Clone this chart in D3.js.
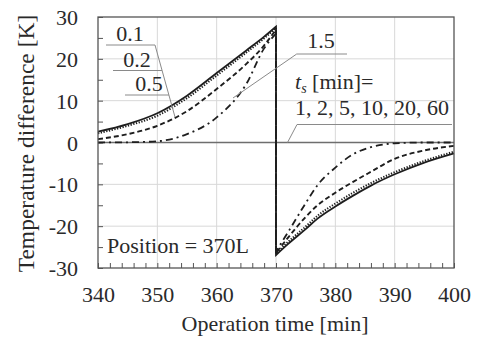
<!DOCTYPE html>
<html>
<head>
<meta charset="utf-8">
<script src="https://cdn.jsdelivr.net/npm/d3@7"></script>
<style>
  html, body { margin: 0; padding: 0; background: #fff; }
  svg { display: block; }
  text { font-family: "Liberation Serif", "Times New Roman", serif; fill: #2a2a2a; }
</style>
</head>
<body>
<svg id="chart" width="477" height="338"></svg>
<script>
// Time axis samples [min] before and after the switch at 370 min
const riseTime = [340, 345, 350, 355, 360, 365, 368, 370];
const fallTime = [370, 372, 375, 377, 380, 383, 386, 390, 395, 400];

// Temperature difference [K] for each switching time t_s
const rise01 = [2.6, 4.4, 7.0, 11.2, 16.6, 22.0, 25.3, 27.7];
const fall01 = [-26.9, -24.3, -20.7, -18.2, -15.3, -12.7, -10.3, -7.6, -4.8, -2.6];
const rise02 = [2.2, 4.0, 6.4, 10.6, 16.0, 21.5, 24.9, 27.4];
const fall02 = [-26.6, -23.8, -20.1, -17.5, -14.6, -12.0, -9.7, -7.1, -4.4, -2.2];
const rise05 = [0.8, 2.0, 4.0, 7.5, 12.8, 18.8, 23.2, 27.0];
const fall05 = [-26.4, -22.8, -17.8, -15.0, -12.0, -9.4, -7.0, -3.9, -1.9, -0.8];
const rise15 = [0.0, 0.05, 0.3, 2.0, 6.0, 14.0, 22.5, 26.0];
const fall15 = [-26.0, -21.5, -14.5, -10.2, -6.0, -2.8, -1.1, -0.2, 0.0, 0.0];

// t_s = 1, 2, 5, 10, 20, 60 min stay at zero
const flatTime = [340, 400];
const flatValue = [0, 0];

const xTicks = [340, 350, 360, 370, 380, 390, 400];
const yTicks = [-30, -20, -10, 0, 10, 20, 30];

const serif = '"Liberation Serif", "Times New Roman", serif';
const svg = d3.select("#chart");
const pL = 98, pR = 454, pT = 17, pB = 268;

const x = d3.scaleLinear().domain([340, 400]).range([pL, pR]);
const y = d3.scaleLinear().domain([-30, 30]).range([pB, pT]);

// grid
const grid = svg.append("g");
grid.selectAll("line.gx").data(xTicks.slice(1, -1)).enter().append("line")
  .attr("x1", d => x(d)).attr("x2", d => x(d)).attr("y1", pT).attr("y2", pB)
  .attr("stroke", "#d8d8d8").attr("stroke-width", 1);
grid.selectAll("line.gy").data(yTicks.filter(v => v !== 0 && Math.abs(v) !== 30)).enter().append("line")
  .attr("x1", pL).attr("x2", pR).attr("y1", d => y(d)).attr("y2", d => y(d))
  .attr("stroke", "#d8d8d8").attr("stroke-width", 1);

// minor ticks, drawn inward
const xMinor = d3.range(340, 401, 2);
const yMinor = d3.range(-30, 31, 5);
svg.append("g").attr("transform", `translate(0,${pB})`)
  .call(d3.axisBottom(x).tickValues(xMinor).tickSize(-5).tickFormat(""))
  .call(g => g.select(".domain").remove())
  .call(g => g.selectAll("line").attr("stroke", "#555"));
svg.append("g").attr("transform", `translate(${pL},0)`)
  .call(d3.axisLeft(y).tickValues(yMinor).tickSize(-5).tickFormat(""))
  .call(g => g.select(".domain").remove())
  .call(g => g.selectAll("line").attr("stroke", "#555"));

// tick labels
svg.append("g").attr("transform", `translate(0,${pB})`)
  .call(d3.axisBottom(x).tickValues(xTicks).tickSize(0).tickPadding(0).tickFormat(d3.format("d")))
  .attr("font-family", serif).attr("font-size", 22)
  .call(g => g.select(".domain").remove())
  .call(g => g.selectAll("text").attr("dy", null).attr("y", 34).attr("fill", "#2a2a2a"));
svg.append("g").attr("transform", `translate(${pL},0)`)
  .call(d3.axisLeft(y).tickValues(yTicks).tickSize(0).tickPadding(0).tickFormat(d => d < 0 ? "-" + Math.abs(d) : d))
  .attr("font-family", serif).attr("font-size", 22)
  .call(g => g.select(".domain").remove())
  .call(g => g.selectAll("text").attr("dy", null).attr("x", -20).attr("y", 7.5).attr("fill", "#2a2a2a"));

// zero line (t_s >= 1 min)
const line = d3.line().x(d => x(d[0])).y(d => y(d[1]));
svg.append("path")
  .attr("d", line(flatTime.map((t, i) => [t, flatValue[i]])))
  .attr("fill", "none").attr("stroke", "#6e6e6e").attr("stroke-width", 1.6);

// curves: rise, vertical drop at the switch, recovery
const smooth = d3.line().x(d => x(d[0])).y(d => y(d[1])).curve(d3.curveMonotoneX);
function curvePath(rise, fall) {
  const a = smooth(riseTime.map((t, i) => [t, rise[i]]));
  const b = smooth(fallTime.map((t, i) => [t, fall[i]]));
  return a + "L" + b.slice(1);
}
const series = [
  { rise: rise15, fall: fall15, dash: "7,4,2,4", width: 1.8 },
  { rise: rise05, fall: fall05, dash: "5,3", width: 1.9 },
  { rise: rise02, fall: fall02, dash: "1.3,1.5", width: 2.0 },
  { rise: rise01, fall: fall01, dash: null, width: 1.8 }
];
svg.append("g").selectAll("path").data(series).enter().append("path")
  .attr("d", d => curvePath(d.rise, d.fall))
  .attr("fill", "none").attr("stroke", "#1e1e1e")
  .attr("stroke-width", d => d.width)
  .attr("stroke-dasharray", d => d.dash);

// frame
svg.append("rect").attr("x", pL).attr("y", pT).attr("width", pR - pL).attr("height", pB - pT)
  .attr("fill", "none").attr("stroke", "#555").attr("stroke-width", 1.3);

// annotations
const ann = svg.append("g").attr("font-family", serif).attr("font-size", 22);
const leader = "#8a8a8a";
ann.append("line").attr("x1", 106).attr("x2", 155).attr("y1", 45).attr("y2", 45).attr("stroke", leader);
ann.append("line").attr("x1", 113).attr("x2", 162).attr("y1", 70.5).attr("y2", 70.5).attr("stroke", leader);
ann.append("line").attr("x1", 125).attr("x2", 169).attr("y1", 95).attr("y2", 95).attr("stroke", leader);
ann.append("line").attr("x1", 155).attr("y1", 45).attr("x2", 175).attr("y2", 117).attr("stroke", leader);
ann.append("text").attr("x", 130).attr("y", 41).attr("text-anchor", "middle").text("0.1");
ann.append("text").attr("x", 137).attr("y", 66.5).attr("text-anchor", "middle").text("0.2");
ann.append("text").attr("x", 149).attr("y", 91).attr("text-anchor", "middle").text("0.5");

ann.append("line").attr("x1", 296.7).attr("x2", 347).attr("y1", 54).attr("y2", 54).attr("stroke", leader);
ann.append("line").attr("x1", 296.7).attr("y1", 54).attr("x2", 233).attr("y2", 98).attr("stroke", leader);
ann.append("text").attr("x", 321).attr("y", 48).attr("text-anchor", "middle").text("1.5");

const ts = ann.append("text").attr("x", 295).attr("y", 89);
ts.append("tspan").attr("font-style", "italic").text("t");
ts.append("tspan").attr("font-style", "italic").attr("dy", 3.5).attr("font-size", 14).text("s");
ts.append("tspan").attr("dy", -3.5).text(" [min]=");
ann.append("text").attr("x", 295).attr("y", 115).text("1, 2, 5, 10, 20, 60");
ann.append("line").attr("x1", 297).attr("x2", 452).attr("y1", 124.5).attr("y2", 124.5).attr("stroke", leader);
ann.append("line").attr("x1", 297).attr("y1", 124.5).attr("x2", 287.5).attr("y2", 142.5).attr("stroke", leader);

ann.append("text").attr("x", 107).attr("y", 252.5).text("Position = 370L");

// axis titles
svg.append("text").attr("x", 275).attr("y", 331).attr("text-anchor", "middle")
  .attr("font-family", serif).attr("font-size", 22).text("Operation time [min]");
svg.append("text").attr("transform", "translate(33.5,143.5) rotate(-90)").attr("text-anchor", "middle")
  .attr("font-family", serif).attr("font-size", 23.5).text("Temperature difference [K]");
</script>
</body>
</html>
